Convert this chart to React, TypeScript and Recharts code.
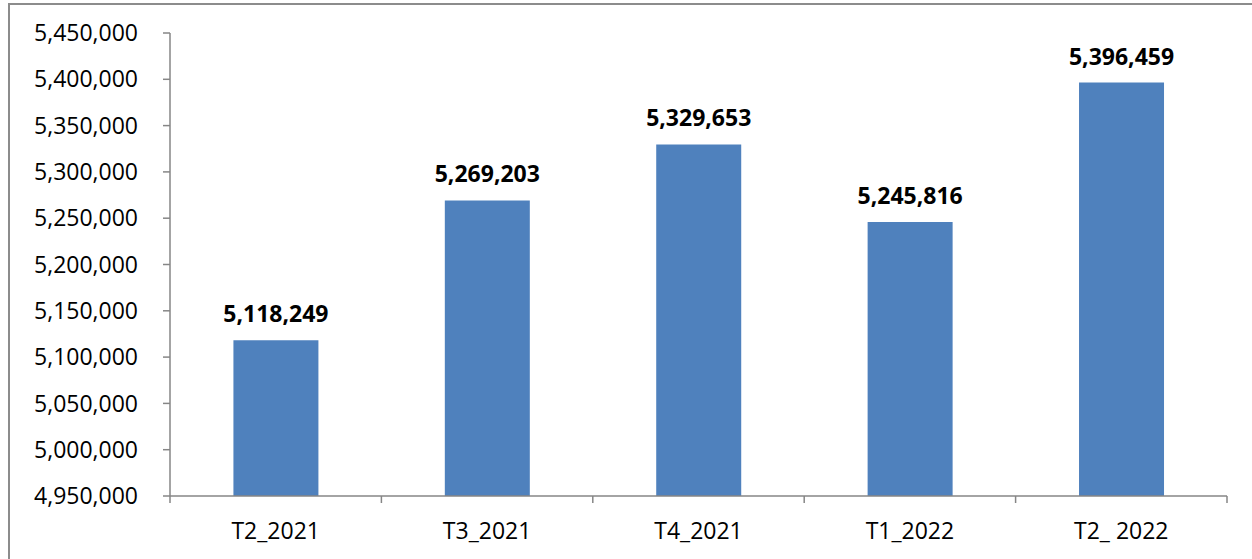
import React from "react";
import { BarChart, Bar, XAxis, YAxis, LabelList } from "recharts";

const quarters = ["T2_2021", "T3_2021", "T4_2021", "T1_2022", "T2_ 2022"];
const totals = [5118249, 5269203, 5329653, 5245816, 5396459];
const yTicks = [4950000, 5000000, 5050000, 5100000, 5150000, 5200000, 5250000, 5300000, 5350000, 5400000, 5450000];

const data = quarters.map((q, i) => ({ quarter: q, total: totals[i] }));

const FONT = "'Open Sans', 'Liberation Sans', sans-serif";
const AXIS = "#868686";

const fmt = (v: number) => v.toLocaleString("en-US");

const QuarterTick = (props: any) => {
  const { x, y, payload, index } = props;
  const half = payload.offset || 0;
  const last = index === quarters.length - 1;
  return (
    <g>
      <line x1={x - half} x2={x - half} y1={y} y2={y + 7} stroke={AXIS} strokeWidth={1.5} />
      {last && <line x1={x + half} x2={x + half} y1={y} y2={y + 7} stroke={AXIS} strokeWidth={1.5} />}
      <text x={x} y={y + 43} textAnchor="middle" fill="#000" fontSize={23} fontFamily={FONT}>
        {payload.value}
      </text>
    </g>
  );
};

export default function App() {
  return (
    <div style={{ position: "absolute", left: 0, top: 0, width: 1252, height: 559, overflow: "hidden", background: "#fff" }}>
      <div
        style={{
          position: "absolute",
          left: 8,
          top: 3,
          width: 1244,
          height: 556,
          borderTop: "2px solid #8c8c8c",
          borderLeft: "2px solid #8c8c8c",
          boxSizing: "border-box",
        }}
      />
      <div style={{ position: "absolute", left: 0, top: 0 }}>
        <BarChart
          width={1252}
          height={559}
          data={data}
          margin={{ top: 33, right: 25, bottom: 33, left: 0 }}
          barCategoryGap="30%"
        >
          <YAxis
            width={170}
            domain={[4950000, 5450000]}
            ticks={yTicks}
            allowDataOverflow
            tickFormatter={fmt}
            tickSize={7}
            tickMargin={25}
            axisLine={{ stroke: AXIS, strokeWidth: 1.5 }}
            tickLine={{ stroke: AXIS, strokeWidth: 1.5 }}
            tick={{ fill: "#000", fontSize: 23, fontFamily: FONT }}
          />
          <XAxis
            dataKey="quarter"
            height={30}
            axisLine={{ stroke: AXIS, strokeWidth: 1.5 }}
            tickLine={false}
            tickSize={0}
            tickMargin={0}
            interval={0}
            tick={<QuarterTick />}
          />
          <Bar dataKey="total" fill="#4f81bd" isAnimationActive={false}>
            <LabelList
              dataKey="total"
              position="top"
              offset={18}
              formatter={(v: any) => fmt(Number(v))}
              fill="#000"
              fontSize={23}
              fontWeight="bold"
              fontFamily={FONT}
            />
          </Bar>
        </BarChart>
      </div>
    </div>
  );
}
